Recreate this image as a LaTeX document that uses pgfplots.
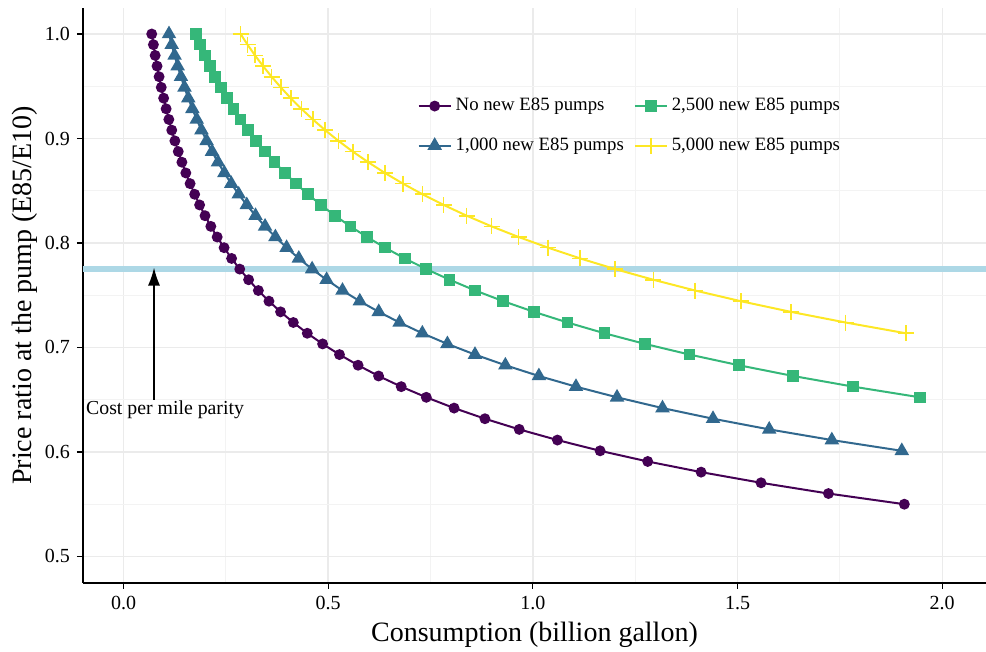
\documentclass[border=0pt]{standalone}
\usepackage{fontspec}
\setmainfont{Liberation Serif}
\usepackage{pgfplots}
\pgfplotsset{compat=1.18}
\usetikzlibrary{arrows.meta}
\definecolor{vpurple}{HTML}{440154}
\definecolor{vblue}{HTML}{31688E}
\definecolor{vgreen}{HTML}{35B779}
\definecolor{vyellow}{HTML}{FDE725}
\definecolor{parity}{HTML}{ADD8E6}
\definecolor{gmajor}{HTML}{EBEBEB}
\definecolor{gminor}{HTML}{F3F3F3}
\begin{document}
\begin{tikzpicture}
\useasboundingbox (0,0) rectangle (493pt,326pt);
\begin{axis}[
  at={(41.5pt,34.5pt)}, anchor=south west,
  scale only axis, width=451.5pt, height=287.5pt,
  xmin=-0.099, xmax=2.107, ymin=0.4746, ymax=1.0249,
  axis x line*=bottom, axis y line*=left,
  axis line style={line width=1pt, -},
  xtick={0,0.5,1,1.5,2}, ytick={0.5,0.6,0.7,0.8,0.9,1.0},
  minor xtick={-0.25,0.25,0.75,1.25,1.75},
  minor ytick={0.55,0.65,0.75,0.85,0.95},
  grid=both,
  major grid style={gmajor, line width=0.7pt},
  minor grid style={gminor, line width=0.6pt},
  tick align=outside,
  major tick length=3pt, minor tick length=0pt,
  xtick style={black, line width=0.6pt},
  ytick style={black, line width=0.6pt},
  tick label style={font=\fontsize{10}{12}\selectfont, black},
  xticklabel style={/pgf/number format/fixed, /pgf/number format/fixed zerofill, /pgf/number format/precision=1, /pgf/number format/assume math mode=true},
  yticklabel style={/pgf/number format/fixed, /pgf/number format/fixed zerofill, /pgf/number format/precision=1, /pgf/number format/assume math mode=true},
  xlabel={Consumption (billion gallon)},
  ylabel={Price ratio at the pump (E85/E10)},
  label style={font=\fontsize{14}{16}\selectfont},
  xlabel style={at={(axis description cs:0.5,0)}, anchor=center, yshift=-26pt},
  ylabel style={at={(axis description cs:0,0.5)}, anchor=center, yshift=29pt},
  legend columns=2,
  legend cell align=left,
  legend style={draw=none, fill=none, font=\fontsize{9.4}{11}\selectfont,
    at={(axis cs:0.703,0.9465)}, anchor=north west,
    /tikz/every even column/.append style={column sep=3pt},
    row sep=8pt},
  legend image code/.code={\draw[mark repeat=2,mark phase=2] plot coordinates {(0pt,0pt)(8pt,0pt)(16pt,0pt)};},
]
\addplot[parity, line width=3pt, forget plot] coordinates {(-0.099,0.7755) (2.107,0.7755)};
\addplot[black, line width=0.8pt, forget plot, -{Latex[length=9pt,width=6pt]}] coordinates {(0.0745,0.650) (0.0745,0.7765)};
\node[font=\fontsize{9.9}{11}\selectfont, anchor=center] at (axis cs:0.1015,0.640) {Cost per mile parity};

\addplot[vpurple, line width=1pt, mark=*, mark size=2.2pt, mark options={solid}] coordinates {
(0.0689,1.0000) (0.0730,0.9898) (0.0773,0.9795) (0.0819,0.9693) (0.0869,0.9591)
(0.0922,0.9489) (0.0980,0.9386) (0.1041,0.9284) (0.1107,0.9182) (0.1178,0.9080)
(0.1255,0.8977) (0.1337,0.8875) (0.1426,0.8773) (0.1522,0.8670) (0.1626,0.8568)
(0.1738,0.8466) (0.1859,0.8364) (0.1991,0.8261) (0.2133,0.8159) (0.2288,0.8057)
(0.2457,0.7955) (0.2640,0.7852) (0.2839,0.7750) (0.3056,0.7648) (0.3294,0.7545)
(0.3553,0.7443) (0.3837,0.7341) (0.4148,0.7239) (0.4489,0.7136) (0.4864,0.7034)
(0.5276,0.6932) (0.5730,0.6830) (0.6231,0.6727) (0.6784,0.6625) (0.7397,0.6523)
(0.8076,0.6420) (0.8829,0.6318) (0.9667,0.6216) (1.0600,0.6114) (1.1643,0.6011)
(1.2806,0.5909) (1.4110,0.5807) (1.5574,0.5705) (1.7221,0.5602) (1.9075,0.5500)
};
\addlegendentry{No new E85 pumps}

\addplot[vgreen, line width=1pt, mark=square*, mark size=2.4pt, mark options={solid}] coordinates {
(0.1770,1.0000) (0.1875,0.9898) (0.1988,0.9795) (0.2108,0.9693) (0.2237,0.9591)
(0.2376,0.9489) (0.2525,0.9386) (0.2685,0.9284) (0.2857,0.9182) (0.3043,0.9080)
(0.3242,0.8977) (0.3457,0.8875) (0.3690,0.8773) (0.3941,0.8670) (0.4212,0.8568)
(0.4505,0.8466) (0.4823,0.8364) (0.5168,0.8261) (0.5542,0.8159) (0.5948,0.8057)
(0.6390,0.7955) (0.6872,0.7852) (0.7396,0.7750) (0.7968,0.7648) (0.8593,0.7545)
(0.9277,0.7443) (1.0026,0.7341) (1.0847,0.7239) (1.1748,0.7136) (1.2739,0.7034)
(1.3829,0.6932) (1.5032,0.6830) (1.6360,0.6727) (1.7828,0.6625) (1.9455,0.6523)
};
\addlegendentry{2,500 new E85 pumps}

\addplot[vblue, line width=1pt, mark=triangle*, mark size=3.2pt, mark options={solid}] coordinates {
(0.1111,1.0000) (0.1177,0.9898) (0.1247,0.9795) (0.1322,0.9693) (0.1403,0.9591)
(0.1489,0.9489) (0.1582,0.9386) (0.1682,0.9284) (0.1789,0.9182) (0.1904,0.9080)
(0.2029,0.8977) (0.2162,0.8875) (0.2307,0.8773) (0.2463,0.8670) (0.2632,0.8568)
(0.2814,0.8466) (0.3011,0.8364) (0.3225,0.8261) (0.3458,0.8159) (0.3710,0.8057)
(0.3984,0.7955) (0.4282,0.7852) (0.4607,0.7750) (0.4961,0.7648) (0.5349,0.7545)
(0.5772,0.7443) (0.6235,0.7341) (0.6743,0.7239) (0.7300,0.7136) (0.7912,0.7034)
(0.8586,0.6932) (0.9328,0.6830) (1.0147,0.6727) (1.1053,0.6625) (1.2056,0.6523)
(1.3167,0.6420) (1.4401,0.6318) (1.5774,0.6216) (1.7304,0.6114) (1.9013,0.6011)
};
\addlegendentry{1,000 new E85 pumps}

\addplot[vyellow, line width=1pt, mark=+, mark size=4pt, mark options={solid, line width=0.8pt}] coordinates {
(0.2860,1.0000) (0.3030,0.9898) (0.3213,0.9795) (0.3409,0.9693) (0.3618,0.9591)
(0.3843,0.9489) (0.4085,0.9386) (0.4345,0.9284) (0.4625,0.9182) (0.4926,0.9080)
(0.5250,0.8977) (0.5600,0.8875) (0.5978,0.8773) (0.6386,0.8670) (0.6827,0.8568)
(0.7304,0.8466) (0.7821,0.8364) (0.8382,0.8261) (0.8991,0.8159) (0.9653,0.8057)
(1.0373,0.7955) (1.1157,0.7852) (1.2011,0.7750) (1.2944,0.7648) (1.3964,0.7545)
(1.5079,0.7443) (1.6300,0.7341) (1.7640,0.7239) (1.9111,0.7136)
};
\addlegendentry{5,000 new E85 pumps}
\end{axis}
\end{tikzpicture}
\end{document}
